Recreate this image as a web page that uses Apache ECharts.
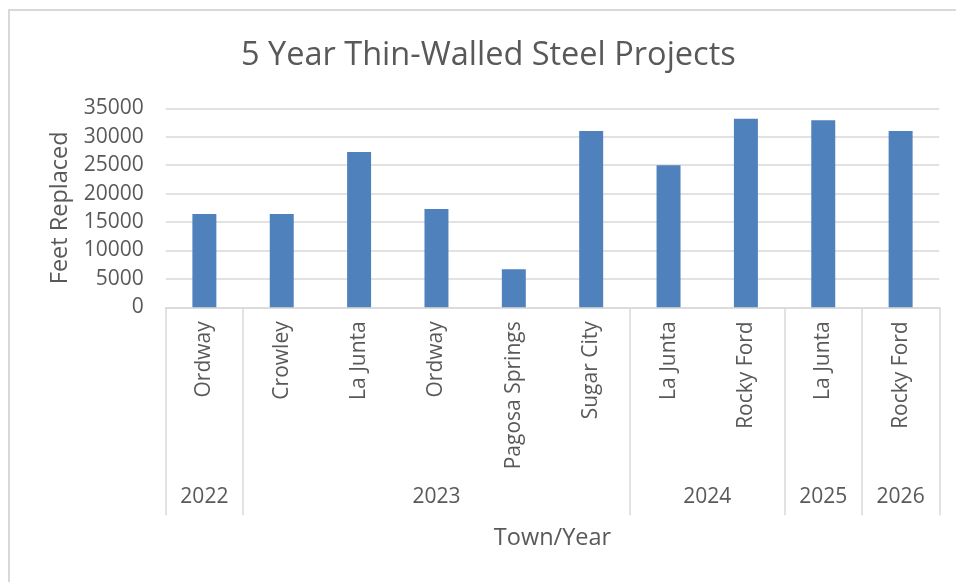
<!DOCTYPE html>
<html>
<head>
<meta charset="utf-8">
<script src="https://cdn.jsdelivr.net/npm/echarts@6/dist/echarts.min.js"></script>
<style>
  html, body { margin: 0; padding: 0; background: #fff; overflow: hidden; }
  #frame { position: absolute; left: 8px; top: 9px; width: 2000px; height: 2000px;
           border-top: 2px solid #d9d9d9; border-left: 2px solid #d9d9d9; }
  #chart { position: absolute; left: 0; top: 0; width: 956px; height: 582px; }
</style>
</head>
<body>
<div id="frame"></div>
<div id="chart"></div>
<script>
const towns = ['Ordway', 'Crowley', 'La Junta', 'Ordway', 'Pagosa Springs', 'Sugar City',
               'La Junta', 'Rocky Ford', 'La Junta', 'Rocky Ford']
const feetReplaced = [16400, 16400, 27300, 17300, 6700, 31000, 25000, 33150, 32900, 31000]
const years = ['2022', '2023', '2024', '2025', '2026']
const townsPerYear = [1, 5, 2, 1, 1]

const textColor = '#595959'
const lineColor = '#d9d9d9'
const font = '"Open Sans", "Noto Sans", sans-serif'

// year row: half-category steps, ticks on group edges, labels on group centres
const halfSteps = []
for (let i = 0; i <= towns.length * 2; i++) halfSteps.push(i)
const edgeSteps = [0]
const yearAt = {}
let acc = 0
townsPerYear.forEach((n, i) => {
  yearAt[acc * 2 + n] = years[i]
  acc += n
  edgeSteps.push(acc * 2)
})

const chart = echarts.init(document.getElementById('chart'))

chart.setOption({
  animation: false
  , title: {
    text: '5 Year Thin-Walled Steel Projects'
    , left: 236
    , top: 34
    , textStyle: { fontFamily: font, fontSize: 32.5, fontWeight: 'normal', color: textColor }
  }
  , grid: { left: 165.7, right: 16.7, top: 108.3, bottom: 274.7 }
  , xAxis: [{
      type: 'category'
      , data: towns
      , name: 'Town/Year'
      , nameLocation: 'middle'
      , nameGap: 219
      , nameTextStyle: { fontFamily: font, fontSize: 23.5, color: textColor }
      , axisLine: { lineStyle: { color: lineColor, width: 1.5 } }
      , axisTick: { show: false }
      , axisLabel: { rotate: 90, margin: 14, fontFamily: font, fontSize: 21, color: textColor, interval: 0 }
    }
    , {
      type: 'category'
      , position: 'bottom'
      , boundaryGap: false
      , data: halfSteps
      , axisLine: { show: false }
      , axisTick: {
          show: true
          , length: 208
          , interval: (i) => edgeSteps.indexOf(i) >= 0
          , lineStyle: { color: lineColor, width: 1.5 }
        }
      , axisLabel: {
          margin: 179
          , interval: (i) => yearAt[i] !== undefined
          , formatter: (v) => yearAt[v] || ''
          , fontFamily: font, fontSize: 21, color: textColor
        }
    }]
  , yAxis: {
    type: 'value'
    , min: 0
    , max: 35000
    , interval: 5000
    , name: 'Feet Replaced'
    , nameLocation: 'middle'
    , nameGap: 88
    , nameTextStyle: { fontFamily: font, fontSize: 23.5, color: textColor }
    , axisLine: { show: false }
    , axisTick: { show: false }
    , axisLabel: { margin: 22, fontFamily: font, fontSize: 21, color: textColor, formatter: (v) => String(v) }
    , splitLine: { lineStyle: { color: lineColor, width: 1.5 } }
  }
  , series: [{
    type: 'bar'
    , xAxisIndex: 0
    , data: feetReplaced
    , barWidth: '31%'
    , itemStyle: { color: '#4f81bd' }
  }]
})
</script>
</body>
</html>
